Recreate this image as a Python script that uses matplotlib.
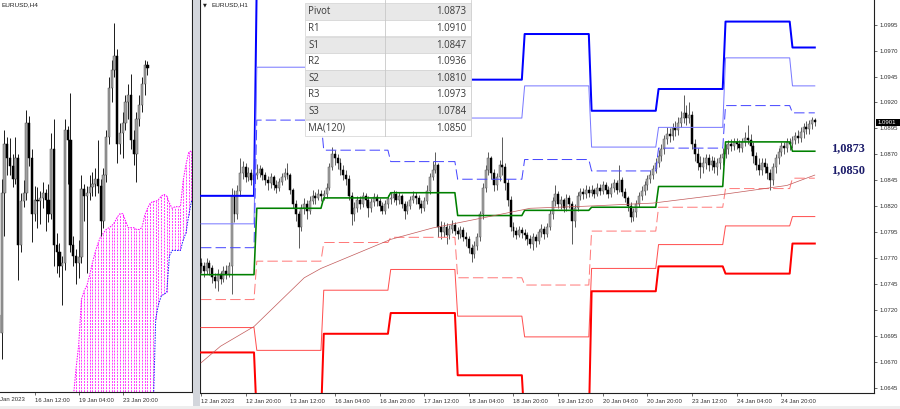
import numpy as np
import matplotlib
matplotlib.use('Agg')
import matplotlib.pyplot as plt
from matplotlib.patches import Rectangle

plt.rcParams['font.family'] = ['Liberation Sans', 'DejaVu Sans']
plt.rcParams['lines.scale_dashes'] = False

# ---------------- H1 EURUSD data (12 Jan 04:00 .. 25 Jan 08:00) ----------------
first_open = 1.0765
h1_close = [
    1.0762, 1.0758, 1.0765, 1.0760, 1.0752, 1.0748, 1.0755, 1.0750, 1.0758, 1.0755, 1.0762, 1.0830, 1.0812, 1.0835, 1.0852, 1.0858, 1.0848, 1.0852, 1.0845, 1.0850,
    1.0852, 1.0856, 1.0850, 1.0845, 1.0842, 1.0848, 1.0840, 1.0838, 1.0843, 1.0848, 1.0852, 1.0850, 1.0836, 1.0822, 1.0812, 1.0800, 1.0818, 1.0822, 1.0815, 1.0825, 1.0830, 1.0828, 1.0832, 1.0830,
    1.0832, 1.0838, 1.0858, 1.0870, 1.0866, 1.0862, 1.0855, 1.0850, 1.0846, 1.0830, 1.0812, 1.0818, 1.0826, 1.0822, 1.0830, 1.0826, 1.0818, 1.0824, 1.0829, 1.0825, 1.0820, 1.0815, 1.0822, 1.0827,
    1.0828, 1.0832, 1.0826, 1.0830, 1.0822, 1.0815, 1.0820, 1.0826, 1.0830, 1.0828, 1.0822, 1.0818, 1.0825, 1.0835, 1.0848, 1.0855, 1.0860, 1.0800, 1.0795, 1.0800, 1.0792, 1.0798, 1.0802, 1.0796,
    1.0793, 1.0797, 1.0790, 1.0788, 1.0780, 1.0774, 1.0782, 1.0790, 1.0812, 1.0838, 1.0855, 1.0866, 1.0852, 1.0840, 1.0848, 1.0860, 1.0858, 1.0842, 1.0826, 1.0800, 1.0796, 1.0792, 1.0797, 1.0794,
    1.0792, 1.0788, 1.0784, 1.0790, 1.0786, 1.0795, 1.0798, 1.0793, 1.0800, 1.0812, 1.0825, 1.0832, 1.0822, 1.0826, 1.0818, 1.0828, 1.0822, 1.0806, 1.0818, 1.0830, 1.0834, 1.0832, 1.0836, 1.0833,
    1.0836, 1.0832, 1.0838, 1.0835, 1.0840, 1.0836, 1.0832, 1.0838, 1.0842, 1.0836, 1.0845, 1.0834, 1.0828, 1.0820, 1.0810, 1.0814, 1.0822, 1.0830, 1.0835, 1.0840, 1.0846, 1.0850, 1.0856, 1.0862,
    1.0868, 1.0875, 1.0885, 1.0890, 1.0888, 1.0895, 1.0893, 1.0900, 1.0905, 1.0910, 1.0905, 1.0908, 1.0880, 1.0870, 1.0862, 1.0858, 1.0862, 1.0866, 1.0860, 1.0864, 1.0858, 1.0862, 1.0866, 1.0870,
    1.0875, 1.0880, 1.0878, 1.0882, 1.0880, 1.0876, 1.0882, 1.0886, 1.0884, 1.0878, 1.0868, 1.0860, 1.0855, 1.0862, 1.0858, 1.0852, 1.0845, 1.0858, 1.0866, 1.0872, 1.0878, 1.0876, 1.0882, 1.0880,
    1.0884, 1.0888, 1.0886, 1.0892, 1.0896, 1.0894, 1.0899, 1.0903, 1.0901]
h1_high = [
    1.0770, 1.0766, 1.0770, 1.0768, 1.0763, 1.0756, 1.0759, 1.0758, 1.0762, 1.0763, 1.0766, 1.0838, 1.0836, 1.0840, 1.0866, 1.0864, 1.0862, 1.0858, 1.0856, 1.0855,
    1.0861, 1.0860, 1.0858, 1.0853, 1.0849, 1.0852, 1.0850, 1.0845, 1.0847, 1.0852, 1.0857, 1.0862, 1.0852, 1.0838, 1.0826, 1.0815, 1.0822, 1.0828, 1.0826, 1.0830, 1.0836, 1.0834, 1.0837, 1.0836,
    1.0836, 1.0842, 1.0862, 1.0877, 1.0874, 1.0870, 1.0866, 1.0860, 1.0855, 1.0850, 1.0834, 1.0824, 1.0830, 1.0830, 1.0834, 1.0833, 1.0830, 1.0828, 1.0833, 1.0832, 1.0828, 1.0824, 1.0826, 1.0831,
    1.0834, 1.0836, 1.0835, 1.0834, 1.0832, 1.0825, 1.0825, 1.0830, 1.0835, 1.0834, 1.0831, 1.0826, 1.0829, 1.0840, 1.0852, 1.0864, 1.0872, 1.0862, 1.0806, 1.0805, 1.0804, 1.0802, 1.0807, 1.0805,
    1.0800, 1.0801, 1.0800, 1.0795, 1.0791, 1.0784, 1.0786, 1.0794, 1.0815, 1.0842, 1.0860, 1.0872, 1.0868, 1.0856, 1.0852, 1.0865, 1.0887, 1.0862, 1.0846, 1.0830, 1.0805, 1.0800, 1.0801, 1.0800,
    1.0798, 1.0795, 1.0792, 1.0794, 1.0793, 1.0798, 1.0803, 1.0801, 1.0804, 1.0816, 1.0829, 1.0840, 1.0835, 1.0830, 1.0828, 1.0832, 1.0831, 1.0825, 1.0822, 1.0834, 1.0838, 1.0838, 1.0840, 1.0839,
    1.0840, 1.0838, 1.0842, 1.0841, 1.0844, 1.0843, 1.0839, 1.0842, 1.0846, 1.0845, 1.0860, 1.0848, 1.0838, 1.0830, 1.0824, 1.0818, 1.0826, 1.0834, 1.0839, 1.0844, 1.0850, 1.0855, 1.0860, 1.0866,
    1.0874, 1.0880, 1.0889, 1.0896, 1.0895, 1.0900, 1.0902, 1.0906, 1.0912, 1.0927, 1.0918, 1.0920, 1.0912, 1.0885, 1.0876, 1.0868, 1.0867, 1.0870, 1.0870, 1.0868, 1.0867, 1.0866, 1.0870, 1.0876,
    1.0880, 1.0884, 1.0885, 1.0886, 1.0886, 1.0884, 1.0886, 1.0892, 1.0898, 1.0890, 1.0882, 1.0872, 1.0866, 1.0866, 1.0866, 1.0862, 1.0856, 1.0862, 1.0870, 1.0876, 1.0882, 1.0882, 1.0886, 1.0886,
    1.0888, 1.0892, 1.0893, 1.0896, 1.0900, 1.0902, 1.0903, 1.0906, 1.0905]
h1_low = [
    1.0756, 1.0752, 1.0755, 1.0754, 1.0746, 1.0741, 1.0738, 1.0745, 1.0747, 1.0750, 1.0752, 1.0735, 1.0805, 1.0808, 1.0830, 1.0846, 1.0843, 1.0844, 1.0840, 1.0841,
    1.0846, 1.0848, 1.0845, 1.0840, 1.0836, 1.0838, 1.0836, 1.0833, 1.0835, 1.0840, 1.0845, 1.0846, 1.0832, 1.0818, 1.0806, 1.0780, 1.0796, 1.0812, 1.0808, 1.0812, 1.0822, 1.0822, 1.0826, 1.0825,
    1.0826, 1.0828, 1.0836, 1.0855, 1.0860, 1.0856, 1.0850, 1.0845, 1.0840, 1.0826, 1.0802, 1.0806, 1.0814, 1.0817, 1.0819, 1.0820, 1.0810, 1.0814, 1.0820, 1.0820, 1.0815, 1.0812, 1.0812, 1.0818,
    1.0822, 1.0824, 1.0821, 1.0822, 1.0818, 1.0808, 1.0812, 1.0817, 1.0823, 1.0822, 1.0817, 1.0813, 1.0815, 1.0822, 1.0832, 1.0845, 1.0852, 1.0790, 1.0788, 1.0790, 1.0784, 1.0788, 1.0794, 1.0792,
    1.0788, 1.0789, 1.0786, 1.0782, 1.0775, 1.0766, 1.0770, 1.0778, 1.0786, 1.0808, 1.0834, 1.0850, 1.0846, 1.0835, 1.0836, 1.0844, 1.0850, 1.0836, 1.0820, 1.0796, 1.0790, 1.0788, 1.0790, 1.0789,
    1.0787, 1.0783, 1.0780, 1.0778, 1.0781, 1.0784, 1.0790, 1.0788, 1.0790, 1.0797, 1.0808, 1.0820, 1.0818, 1.0817, 1.0814, 1.0815, 1.0818, 1.0784, 1.0800, 1.0815, 1.0826, 1.0827, 1.0828, 1.0829,
    1.0830, 1.0828, 1.0830, 1.0831, 1.0832, 1.0832, 1.0828, 1.0829, 1.0834, 1.0832, 1.0834, 1.0830, 1.0824, 1.0815, 1.0805, 1.0806, 1.0810, 1.0819, 1.0826, 1.0831, 1.0836, 1.0842, 1.0846, 1.0852,
    1.0858, 1.0864, 1.0870, 1.0880, 1.0882, 1.0884, 1.0888, 1.0889, 1.0896, 1.0900, 1.0898, 1.0900, 1.0875, 1.0864, 1.0855, 1.0847, 1.0852, 1.0856, 1.0854, 1.0855, 1.0852, 1.0850, 1.0856, 1.0860,
    1.0866, 1.0870, 1.0873, 1.0874, 1.0875, 1.0872, 1.0872, 1.0878, 1.0880, 1.0873, 1.0862, 1.0855, 1.0850, 1.0850, 1.0852, 1.0846, 1.0836, 1.0840, 1.0852, 1.0861, 1.0868, 1.0870, 1.0872, 1.0874,
    1.0876, 1.0880, 1.0881, 1.0882, 1.0886, 1.0890, 1.0890, 1.0894, 1.0897]

# ---------------- daily pivot levels ----------------
day_start_bar = [0, 20, 44, 68, 92, 116, 140, 164, 188, 212]
pivot = [1.0754, 1.0818, 1.0828, 1.0833, 1.0811, 1.0816, 1.0819, 1.0839, 1.0882, 1.0873]
r1 = [1.0780, 1.0903, 1.0874, 1.0863, 1.0846, 1.0865, 1.0854, 1.0876, 1.0917, 1.0910]
r2 = [1.0803, 1.0954, 1.0935, 1.0925, 1.0905, 1.0936, 1.0877, 1.0896, 1.0963, 1.0936]
r3 = [1.0830, 1.1040, 1.1030, 1.1020, 1.0942, 1.0986, 1.0912, 1.0933, 1.0998, 1.0973]
s1 = [1.0730, 1.0767, 1.0785, 1.0790, 1.0751, 1.0744, 1.0796, 1.0819, 1.0837, 1.0847]
s2 = [1.0703, 1.0681, 1.0739, 1.0759, 1.0714, 1.0694, 1.0760, 1.0783, 1.0801, 1.0810]
s3 = [1.0679, 1.0615, 1.0697, 1.0717, 1.0657, 1.0610, 1.0738, 1.0762, 1.0755, 1.0784]

# MA(120) read at sample bars
ma_bar = [0, 7, 19, 37, 43, 68, 83, 107, 118, 138, 162, 186, 210, 220]
ma_val = [1.0669, 1.0685, 1.0704, 1.0751, 1.0760, 1.0788, 1.0799, 1.0812, 1.0818, 1.0820, 1.0823, 1.0831, 1.0840, 1.0850]

# table
table_names = ['Pivot', 'R1', 'S1', 'R2', 'S2', 'R3', 'S3', 'MA(120)']
table_values = ['1.0873', '1.0910', '1.0847', '1.0936', '1.0810', '1.0973', '1.0784', '1.0850']
key_labels = ['1,0873', '1,0850']
key_levels = [1.0873, 1.0850]

# axis labels
price_ticks = [1.0995, 1.0970, 1.0945, 1.0920, 1.0895, 1.0870, 1.0845, 1.0820, 1.0795,
               1.0770, 1.0745, 1.0720, 1.0695, 1.0670, 1.0645]
h1_tick_bars = [0, 16, 32, 48, 64, 80, 96, 112, 128, 144, 160, 176, 192, 208]
h1_tick_labels = ['12 Jan 2023', '12 Jan 20:00', '13 Jan 12:00', '16 Jan 04:00', '16 Jan 20:00',
                  '17 Jan 12:00', '18 Jan 04:00', '18 Jan 20:00', '19 Jan 12:00', '20 Jan 04:00',
                  '20 Jan 20:00', '23 Jan 12:00', '24 Jan 04:00', '24 Jan 20:00']
h4_tick_bars = [12, 28, 44]
h4_tick_labels = ['16 Jan 12:00', '19 Jan 04:00', '23 Jan 20:00']
h4_first_label = 'Jan 2023'
last_price = 1.0901

# Ichimoku cloud on H4 (bar index k, k=0 -> 12 Jan 12:00)
cloud_k = list(range(26, 71))
span_a = [1.0712, 1.0729, 1.0743, 1.0769, 1.0774, 1.0777, 1.0783, 1.0790, 1.0796, 1.0801,
          1.0805, 1.0807, 1.0809, 1.0810, 1.0811, 1.0813, 1.0816, 1.0818, 1.0818, 1.0814,
          1.0810, 1.0810, 1.0810, 1.0809, 1.0809, 1.0810, 1.0817, 1.0821, 1.0824, 1.0825,
          1.0825, 1.0826, 1.0828, 1.0829, 1.0828, 1.0824, 1.0821, 1.0822, 1.0822, 1.0822,
          1.0837, 1.0846, 1.0853, 1.0854, 1.0854]
span_b = [1.0700] * 30 + [1.0758, 1.0766, 1.0771, 1.0772, 1.0773, 1.0794, 1.0797, 1.0797,
                          1.0797, 1.0797, 1.0803, 1.0807, 1.0817, 1.0825, 1.0825]

# ---------------- figure ----------------
W, H = 900, 409
fig = plt.figure(figsize=(W / 100, H / 100), dpi=100)
fig.patch.set_facecolor('white')

axL = fig.add_axes([0, 17 / H, 192 / W, 392 / H])
axR = fig.add_axes([200 / W, 16 / H, 674 / W, 393 / H])

n = len(h1_close)
bars = np.arange(n)
close = np.array(h1_close)
opens = np.concatenate([[first_open], close[:-1]])
high = np.array(h1_high)
low = np.array(h1_low)


def draw_candles(ax, xs, o, h, l, c, width, up_face, up_edge, dn_face, wick_lw):
    xs = np.asarray(xs, float)
    ax.vlines(xs, l, h, colors='#1a1a1a', lw=wick_lw, zorder=2)
    lo = np.minimum(o, c)
    hh = np.maximum(np.abs(c - o), 0.00003)
    up = c >= o
    ax.bar(xs[up], hh[up], width, bottom=lo[up], color=up_face, edgecolor=up_edge,
           lw=0.35, zorder=3)
    ax.bar(xs[~up], hh[~up], width, bottom=lo[~up], color=dn_face, edgecolor=dn_face,
           lw=0.35, zorder=3)


# ---- right panel (H1) ----
draw_candles(axR, bars, opens, high, low, close, 0.7, '#a6a6a6', '#555555', '#000000', 0.5)

counts = np.diff(day_start_bar + [n])


def per_bar(levels):
    return np.repeat(levels, counts)


px = 0.72  # one pixel in points
axR.plot(bars, per_bar(r3), color='#0000ff', lw=2 * px, zorder=4)
axR.plot(bars, per_bar(r2), color='#7878ff', lw=1 * px, zorder=4)
axR.plot(bars, per_bar(r1), color='#4646ff', lw=1 * px, ls=(0, (7.5, 3)), zorder=4)
axR.plot(bars, per_bar(pivot), color='#008000', lw=1.6 * px, zorder=4)
axR.plot(bars, per_bar(s1), color='#ff7a7a', lw=1 * px, ls=(0, (7.5, 3)), zorder=4)
axR.plot(bars, per_bar(s2), color='#ff5050', lw=1 * px, zorder=4)
axR.plot(bars, per_bar(s3), color='#ff0000', lw=2 * px, zorder=4)
axR.plot(ma_bar, ma_val, color='#c25a5a', lw=0.7 * px, zorder=4)

axR.set_xlim(-0.358, 241.22)
axR.set_ylim(1.06399, 1.10188)
axR.set_facecolor('white')
axR.spines['top'].set_visible(False)
for sp in ['left', 'right', 'bottom']:
    axR.spines[sp].set_color('#202020')
    axR.spines[sp].set_linewidth(0.8)
axR.yaxis.set_ticks_position('right')
axR.set_yticks(price_ticks)
axR.set_yticklabels([f'{v:.4f}' for v in price_ticks])
axR.tick_params(axis='y', direction='out', length=2.2, width=0.5, pad=1.5,
                labelsize=4.3, colors='#303030')
axR.set_xticks(h1_tick_bars)
axR.set_xticklabels(h1_tick_labels)
axR.tick_params(axis='x', direction='out', length=2.2, width=0.5, pad=1.8,
                labelsize=4.3, colors='#303030')
for lbl in axR.get_xticklabels():
    lbl.set_ha('left')

# ---- left panel (H4, aggregated from H1) ----
grp = bars // 4
g_ids = np.unique(grp)
h4_o = np.array([opens[grp == g][0] for g in g_ids])
h4_c = np.array([close[grp == g][-1] for g in g_ids])
h4_h = np.array([high[grp == g].max() for g in g_ids])
h4_l = np.array([low[grp == g].min() for g in g_ids])
h4_k = g_ids - 2

axL.vlines(cloud_k, span_b, span_a, colors='#ff40ff', lw=1.0 * px,
           linestyles=(0, (1.4, 0.8)), zorder=1)
axL.plot(cloud_k, span_a, color='#ff00ff', lw=1.0 * px, ls=(0, (1.1, 0.8)), zorder=1)
axL.plot(cloud_k, span_b, color='#2020ff', lw=1.0 * px, ls=(0, (1.1, 0.8)), zorder=1)
draw_candles(axL, h4_k, h4_o, h4_h, h4_l, h4_c, 0.85, '#a0a0a0', '#505050', '#000000', 0.7)

axL.set_xlim(-0.618, 69.2)
axL.set_ylim(1.07161, 1.09401)
for sp in ['top', 'left']:
    axL.spines[sp].set_visible(False)
for sp in ['right', 'bottom']:
    axL.spines[sp].set_color('#202020')
    axL.spines[sp].set_linewidth(0.8)
axL.set_yticks([])
axL.set_xticks(h4_tick_bars)
axL.set_xticklabels(h4_tick_labels)
axL.tick_params(axis='x', direction='out', length=2.2, width=0.5, pad=1.8,
                labelsize=4.3, colors='#303030')
for lbl in axL.get_xticklabels():
    lbl.set_ha('left')

# ---------------- overlay in pixel coordinates ----------------
ov = fig.add_axes([0, 0, 1, 1])
ov.set_xlim(0, W)
ov.set_ylim(H, 0)
ov.axis('off')
ov.set_zorder(10)
ov.patch.set_alpha(0)

# separator between panels
ov.add_patch(Rectangle((193, 0), 6.5, H, facecolor='#d3d6dc', edgecolor='none'))
# bottom strip
ov.add_patch(Rectangle((0, 406), W, 3, facecolor='#eeeeee', edgecolor='none'))

# first (partly hidden) date on left panel
ov.text(0.5, 399.5, h4_first_label, fontsize=4.3, color='#303030', ha='left', va='center')

# titles
ov.text(2, 5, 'EURUSD,H4', fontsize=4.6, color='#202020', ha='left', va='center')
ov.text(203, 5, '▼', fontsize=3.6, color='#202020', ha='left', va='center',
        family='DejaVu Sans')
ov.text(211, 5, 'EURUSD,H1', fontsize=4.6, color='#202020', ha='left', va='center')

# pivot table
tx0, tx1, tdiv = 305, 471, 384.5
row_h = 16.6
ttop = 3.3
ov.add_patch(Rectangle((tx0, -5), tx1 - tx0, ttop + 5 + row_h * len(table_names),
                       facecolor='white', edgecolor='none'))
for r, (nm, val) in enumerate(zip(table_names, table_values)):
    y0 = ttop + r * row_h
    fc = '#e8e8e8' if r % 2 == 0 else 'white'
    ov.add_patch(Rectangle((tx0, y0), tx1 - tx0, row_h, facecolor=fc,
                           edgecolor='#d2d2d2', lw=0.5))
    ov.text(tx0 + 3, y0 + row_h / 2 + 0.3, nm, fontsize=6.9, color='#3a3a3a',
            ha='left', va='center', family='Open Sans')
    ov.text(tx1 - 5, y0 + row_h / 2 + 0.3, val, fontsize=6.9, color='#3a3a3a',
            ha='right', va='center', family='Open Sans')
ov.plot([tdiv, tdiv], [0, ttop + row_h * len(table_names)], color='#c8c8c8', lw=0.6)
ov.plot([tx1, tx1], [0, ttop + row_h * len(table_names)], color='#d2d2d2', lw=0.6)


def py(p):
    return 24.7 + (1.0995 - p) * 10371


for txt, lvl, dy in zip(key_labels, key_levels, [-3.0, -5.0]):
    ov.text(848, py(lvl) + dy, txt, fontsize=8.8, color='#1c1c6a', ha='center',
            va='center', family='Liberation Serif', fontweight='bold')

# current price tag
yc = py(last_price)
ov.add_patch(Rectangle((875.5, yc - 3.4), 24.5, 6.8, facecolor='black', edgecolor='none'))
ov.text(877.5, yc, f'{last_price:.4f}', fontsize=4.3, color='white', ha='left', va='center')

fig.savefig('out.png', dpi=100, facecolor='white')
